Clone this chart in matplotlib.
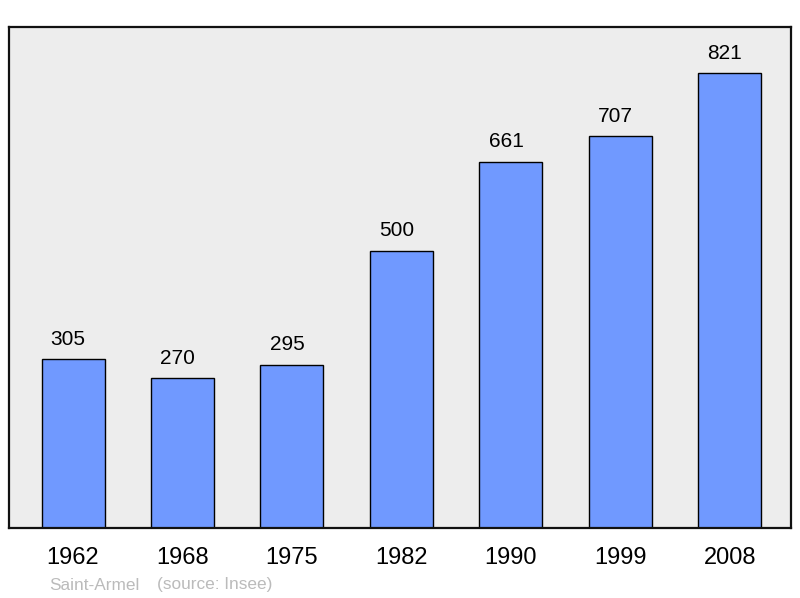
import matplotlib
matplotlib.use("Agg")
import matplotlib.pyplot as plt

years = ["1962", "1968", "1975", "1982", "1990", "1999", "2008"]
population = [305, 270, 295, 500, 661, 707, 821]

plt.rcParams['font.family'] = ['Liberation Sans', 'DejaVu Sans']

fig = plt.figure(figsize=(8, 5.98), dpi=100)
ax = fig.add_axes([9/800, (598-528)/598, 782/800, (528-27)/598])
ax.set_facecolor('#EDEDED')

x = list(range(len(years)))
ax.bar(x, population, width=0.576, color='#7099FF', edgecolor='black', linewidth=1.0, zorder=2)
for xi, v in zip(x, population):
    ax.annotate(str(v), (xi, v), xytext=(-3.5, 7.5), textcoords='offset points',
                ha='center', va='bottom', fontsize=15, color='black')

ax.set_xlim(-0.585, 6.56)
ax.set_ylim(0, 904)
ax.set_xticks(x)
ax.set_xticklabels(years, fontsize=17)
ax.tick_params(axis='x', length=0, pad=14)
ax.set_yticks([])
for s in ax.spines.values():
    s.set_linewidth(1.6)
    s.set_color('#111111')

fig.text(49/800, 1 - 585/598, "Saint-Armel", fontsize=12.4,
         color='#BBBBBB', ha='left', va='center')
fig.text(157/800, 1 - 585/598, "(source: Insee)", fontsize=12.4,
         color='#BBBBBB', ha='left', va='center')

fig.savefig("out.png", dpi=100)
